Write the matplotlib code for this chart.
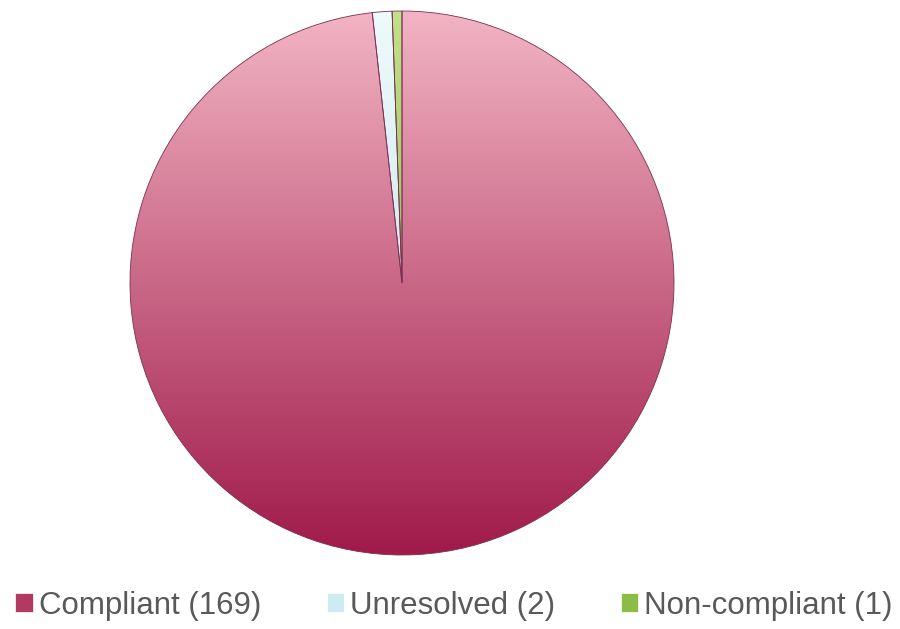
import numpy as np
import matplotlib
matplotlib.use("Agg")
import matplotlib.pyplot as plt
from matplotlib.colors import LinearSegmentedColormap
from matplotlib.patches import Patch

labels = ["Compliant (169)", "Unresolved (2)", "Non-compliant (1)"]
values = [169, 2, 1]
colors = ["#cc6a88", "#d6eff3", "#9cc45a"]
grad_top = ["#f2b4c4", "#eefafc", "#c2e08a"]
grad_bot = ["#a01a4a", "#b8dde4", "#7aa83a"]

plt.rcParams['font.family'] = ['Liberation Sans', 'DejaVu Sans']

fig = plt.figure(figsize=(9, 6.29), dpi=100)
ax = fig.add_axes([0, 0, 1, 1])

cx, cy, r = 402, 629 - 283, 272
wedges, _ = ax.pie(values, startangle=90, counterclock=False, colors=colors,
                   center=(cx, cy), radius=r, frame=True,
                   wedgeprops=dict(edgecolor="#7a3050", linewidth=0.6))
ax.set_xlim(0, 900)
ax.set_ylim(0, 629)
ax.set_aspect('equal')
ax.axis('off')

grad = np.linspace(0, 1, 256).reshape(-1, 1)
for w, top, bot in zip(wedges, grad_top, grad_bot):
    cmap = LinearSegmentedColormap.from_list("g", [bot, top])
    im = ax.imshow(grad, cmap=cmap, origin='lower', aspect='auto',
                   extent=(cx - r, cx + r, cy - r, cy + r), zorder=w.get_zorder() + 0.1)
    im.set_clip_path(w)
    w.set_zorder(w.get_zorder() + 0.2)
    w.set_facecolor('none')

handles = [Patch(facecolor=c, edgecolor='white', linewidth=0.5) for c in ["#b03a62", "#cdebf0", "#8cbc48"]]
leg = fig.legend(handles, labels, loc='center', bbox_to_anchor=(454 / 900, 1 - 606 / 629), ncol=3,
                 frameon=False, fontsize=22.5, handlelength=0.56, handleheight=0.56,
                 handletextpad=0.19, columnspacing=2.1, labelcolor='#595959',
                 borderpad=0, borderaxespad=0)
fig.savefig("out.png", dpi=100)
